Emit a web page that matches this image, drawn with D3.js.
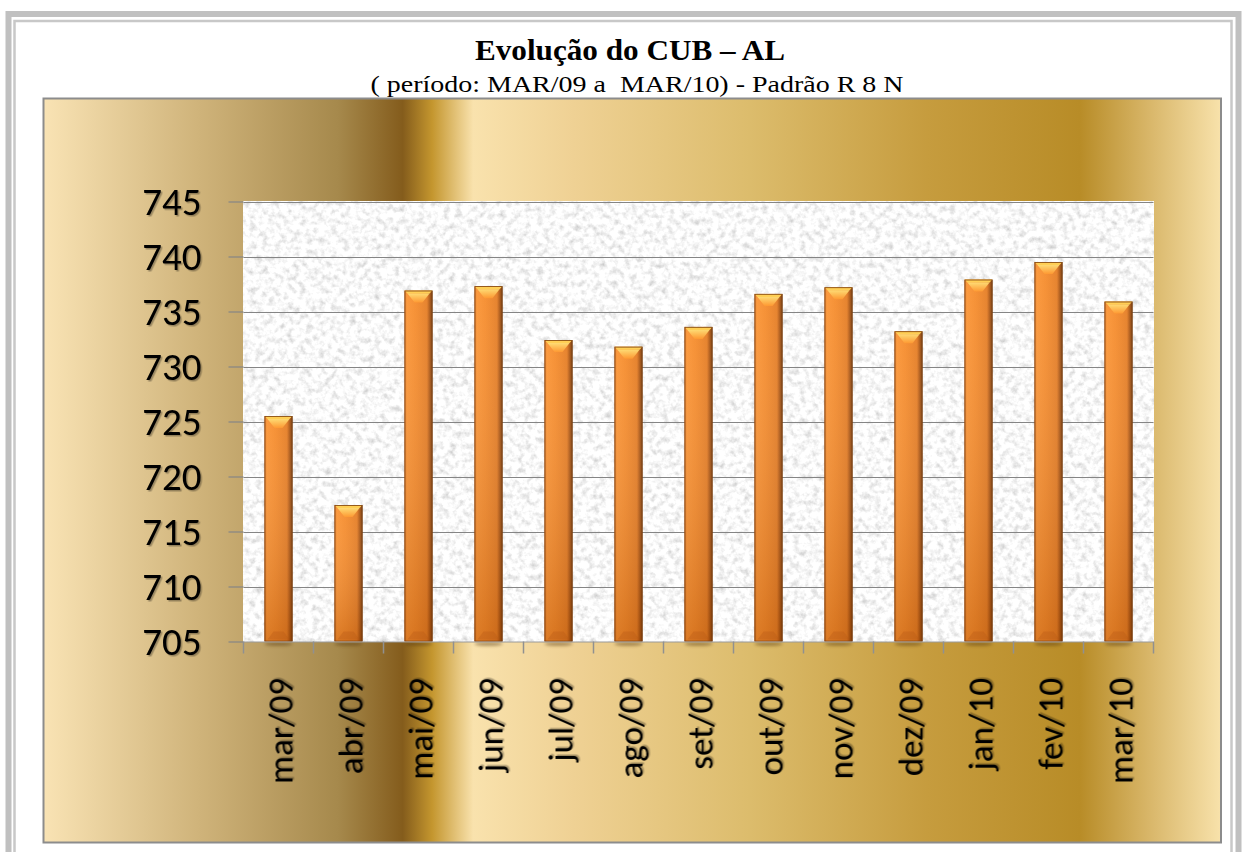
<!DOCTYPE html>
<html>
<head>
<meta charset="utf-8">
<script src="https://cdn.jsdelivr.net/npm/d3@7"></script>
<style>
  body { margin: 0; background: #fff; }
  svg { display: block; }
</style>
</head>
<body>
<svg id="chart"></svg>
<script>
// data
const months = ['mar/09', 'abr/09', 'mai/09', 'jun/09', 'jul/09', 'ago/09', 'set/09',
                'out/09', 'nov/09', 'dez/09', 'jan/10', 'fev/10', 'mar/10'];
const cubValues = [725.5, 717.4, 736.9, 737.3, 732.4, 731.8, 733.6,
                   736.6, 737.2, 733.2, 737.9, 739.5, 735.9];
const yTicks = [705, 710, 715, 720, 725, 730, 735, 740, 745];
const title = 'Evolução do CUB – AL';
const subtitle = '( período: MAR/09 a  MAR/10) - Padrão R 8 N';

const W = 1242, H = 852;
const plot = { left: 243.5, right: 1153.5, top: 201.5, bottom: 641.5 };
const frame = { x: 43.5, y: 98.5, w: 1177.5, h: 744 };

let svg = d3.select('#chart').attr('width', W).attr('height', H);
let defs = svg.append('defs');

// gold background of the chart area
let gold = defs.append('linearGradient').attr('id', 'gold')
    .attr('x1', 0).attr('x2', 1).attr('y1', 0).attr('y2', 0);
[[0, '#f9e3b4'], [0.13, '#d0b47b'], [0.25, '#a6894c'], [0.305, '#845c1c'],
 [0.33, '#c4962e'], [0.365, '#f9e2ad'], [0.45, '#efd194'], [0.6, '#dcbc6c'],
 [0.75, '#c69c3e'], [0.88, '#b88c27'], [0.94, '#d9b76a'], [1, '#f8e2ab']]
  .forEach(s => gold.append('stop').attr('offset', s[0]).attr('stop-color', s[1]));

// granite texture for the plot area
let granite = defs.append('filter').attr('id', 'granite')
    .attr('x', 0).attr('y', 0).attr('width', 1).attr('height', 1);
granite.append('feTurbulence').attr('type', 'fractalNoise')
    .attr('baseFrequency', 0.16).attr('numOctaves', 3).attr('seed', 7);
granite.append('feColorMatrix').attr('type', 'matrix')
    .attr('values', '0.8 0 0 0 0.55  0.8 0 0 0 0.55  0.8 0 0 0 0.55  0 0 0 0 1');

// bar shading
let barH = defs.append('linearGradient').attr('id', 'barH')
    .attr('x1', 0).attr('x2', 1).attr('y1', 0).attr('y2', 1e-6);
[[0, '#c8661a'], [0.08, '#fb9434'], [0.4, '#f58b2b'], [0.8, '#e57d24'],
 [0.88, '#b95e16'], [1, '#6e360a']]
  .forEach(s => barH.append('stop').attr('offset', s[0]).attr('stop-color', s[1]));

let barV = defs.append('linearGradient').attr('id', 'barV')
    .attr('x1', 0).attr('x2', 0).attr('y1', 0).attr('y2', 1);
barV.append('stop').attr('offset', 0).attr('stop-color', '#ffffff').attr('stop-opacity', 0.05);
barV.append('stop').attr('offset', 1).attr('stop-color', '#8a3a00').attr('stop-opacity', 0.28);

let bevel = defs.append('linearGradient').attr('id', 'bevel')
    .attr('x1', 0).attr('x2', 0).attr('y1', 0).attr('y2', 1);
bevel.append('stop').attr('offset', 0).attr('stop-color', '#ffe27a');
bevel.append('stop').attr('offset', 1).attr('stop-color', '#ff9a32');

let shadow = defs.append('filter').attr('id', 'txtShadow');
shadow.append('feDropShadow').attr('dx', 1.5).attr('dy', 1.5)
    .attr('stdDeviation', 0.7).attr('flood-color', '#000').attr('flood-opacity', 0.3);

let blur = defs.append('filter').attr('id', 'blur')
    .attr('x', -0.5).attr('y', -2).attr('width', 2).attr('height', 5);
blur.append('feGaussianBlur').attr('stdDeviation', 1.6);

// page borders
svg.append('rect').attr('x', 8.5).attr('y', 14).attr('width', 1230).attr('height', 860)
    .attr('fill', 'none').attr('stroke', '#c0c0c0').attr('stroke-width', 6);
svg.append('rect').attr('x', 14.5).attr('y', 21).attr('width', 1217).attr('height', 850)
    .attr('fill', 'none').attr('stroke', '#c8c8c8').attr('stroke-width', 2.5);

// titles
svg.append('text').attr('x', 630).attr('y', 60)
    .attr('text-anchor', 'middle')
    .style('font-family', '"Liberation Serif", "Times New Roman", serif')
    .style('font-weight', 'bold').style('font-size', '30px')
    .attr('textLength', 310).attr('lengthAdjust', 'spacingAndGlyphs')
    .text(title);
svg.append('text').attr('x', 637).attr('y', 92)
    .attr('text-anchor', 'middle')
    .style('font-family', '"Liberation Serif", "Times New Roman", serif')
    .style('font-size', '24px').style('white-space', 'pre')
    .attr('textLength', 533).attr('lengthAdjust', 'spacingAndGlyphs')
    .text(subtitle);

// chart frame
svg.append('rect').attr('x', frame.x).attr('y', frame.y)
    .attr('width', frame.w).attr('height', frame.h)
    .attr('fill', 'url(#gold)').attr('stroke', '#8c8c8c').attr('stroke-width', 2);

svg.append('rect').attr('x', plot.left).attr('y', plot.top)
    .attr('width', plot.right - plot.left).attr('height', plot.bottom - plot.top)
    .attr('filter', 'url(#granite)');

// scales
let x = d3.scaleBand().domain(months).range([plot.left, plot.right])
    .paddingInner(0.6).paddingOuter(0.3);
let y = d3.scaleLinear().domain([705, 745]).range([plot.bottom, plot.top]);

// gridlines
svg.append('g').selectAll('line').data(yTicks.slice(1)).enter().append('line')
    .attr('x1', plot.left).attr('x2', plot.right)
    .attr('y1', d => Math.round(y(d)) + 0.5).attr('y2', d => Math.round(y(d)) + 0.5)
    .attr('stroke', '#858585').attr('stroke-width', 1.2);

// y axis
let yAxis = svg.append('g').attr('transform', `translate(${plot.left},0)`)
    .call(d3.axisLeft(y).tickValues(yTicks).tickSize(15).tickPadding(27).tickFormat(d3.format('d')));
yAxis.select('.domain').remove();
yAxis.selectAll('.tick line').attr('stroke', '#858585').attr('stroke-width', 1.2);
yAxis.selectAll('.tick text')
    .style('font-family', 'Carlito, Calibri, Lato, sans-serif')
    .style('font-size', '39px').attr('fill', '#000').attr('dy', '0.34em')
    .attr('filter', 'url(#txtShadow)');

// bar shadows under the axis
svg.append('g').selectAll('ellipse').data(months).enter().append('ellipse')
    .attr('cx', d => x(d) + x.bandwidth() / 2)
    .attr('cy', plot.bottom + 2.5)
    .attr('rx', x.bandwidth() / 2).attr('ry', 2)
    .attr('fill', '#5a3a10').attr('opacity', 0.45).attr('filter', 'url(#blur)');

// bars
let bars = svg.append('g').selectAll('g').data(cubValues).enter().append('g')
    .attr('transform', (d, i) => `translate(${x(months[i])},0)`);
const bw = x.bandwidth();

bars.append('rect')
    .attr('y', d => y(d)).attr('width', bw).attr('height', d => plot.bottom - y(d))
    .attr('fill', 'url(#barH)');
bars.append('rect')
    .attr('y', d => y(d)).attr('width', bw).attr('height', d => plot.bottom - y(d))
    .attr('fill', 'url(#barV)');
bars.append('polygon')
    .attr('points', d => {
      let t = y(d);
      return [[0, t], [bw, t], [bw - 3, t + 3], [3, t + 3]].join(' ');
    })
    .attr('fill', '#ffcf55');
bars.append('polygon')
    .attr('points', d => {
      let t = y(d);
      return [[3, t + 3], [bw - 3, t + 3], [bw / 2 + 4, t + 12], [bw / 2 - 4, t + 12]].join(' ');
    })
    .attr('fill', 'url(#bevel)').attr('opacity', 0.9);
bars.append('polygon')
    .attr('points', [[3, plot.bottom - 2], [bw - 3, plot.bottom - 2],
                     [bw / 2 + 5, plot.bottom - 10], [bw / 2 - 5, plot.bottom - 10]].join(' '))
    .attr('fill', '#b85a18').attr('opacity', 0.35);
bars.append('rect')
    .attr('x', 0.4).attr('y', d => y(d) + 0.4)
    .attr('width', bw - 0.8).attr('height', d => plot.bottom - y(d) - 0.8)
    .attr('fill', 'none').attr('stroke', '#7e400e').attr('stroke-width', 0.8);

// x axis: line, ticks at category boundaries, rotated labels
svg.append('line').attr('x1', plot.left).attr('x2', plot.right)
    .attr('y1', plot.bottom + 0.5).attr('y2', plot.bottom + 0.5)
    .attr('stroke', '#9a9a9a').attr('stroke-width', 1.2);

let bounds = months.map(m => x(m) - x.step() * x.paddingInner() / 2);
bounds.push(plot.right);
svg.append('g').selectAll('line').data(bounds).enter().append('line')
    .attr('x1', d => d).attr('x2', d => d)
    .attr('y1', plot.bottom).attr('y2', plot.bottom + 12)
    .attr('stroke', '#909090').attr('stroke-width', 1.5);

svg.append('g').selectAll('text').data(months).enter().append('text')
    .attr('transform', d => `translate(${x(d) + bw / 2 + 2},678) rotate(-90)`)
    .attr('text-anchor', 'end').attr('dy', '0.35em')
    .style('font-family', 'Carlito, Calibri, Lato, sans-serif')
    .style('font-size', '35px').attr('fill', '#000')
    .attr('filter', 'url(#txtShadow)')
    .text(d => d);
</script>
</body>
</html>
